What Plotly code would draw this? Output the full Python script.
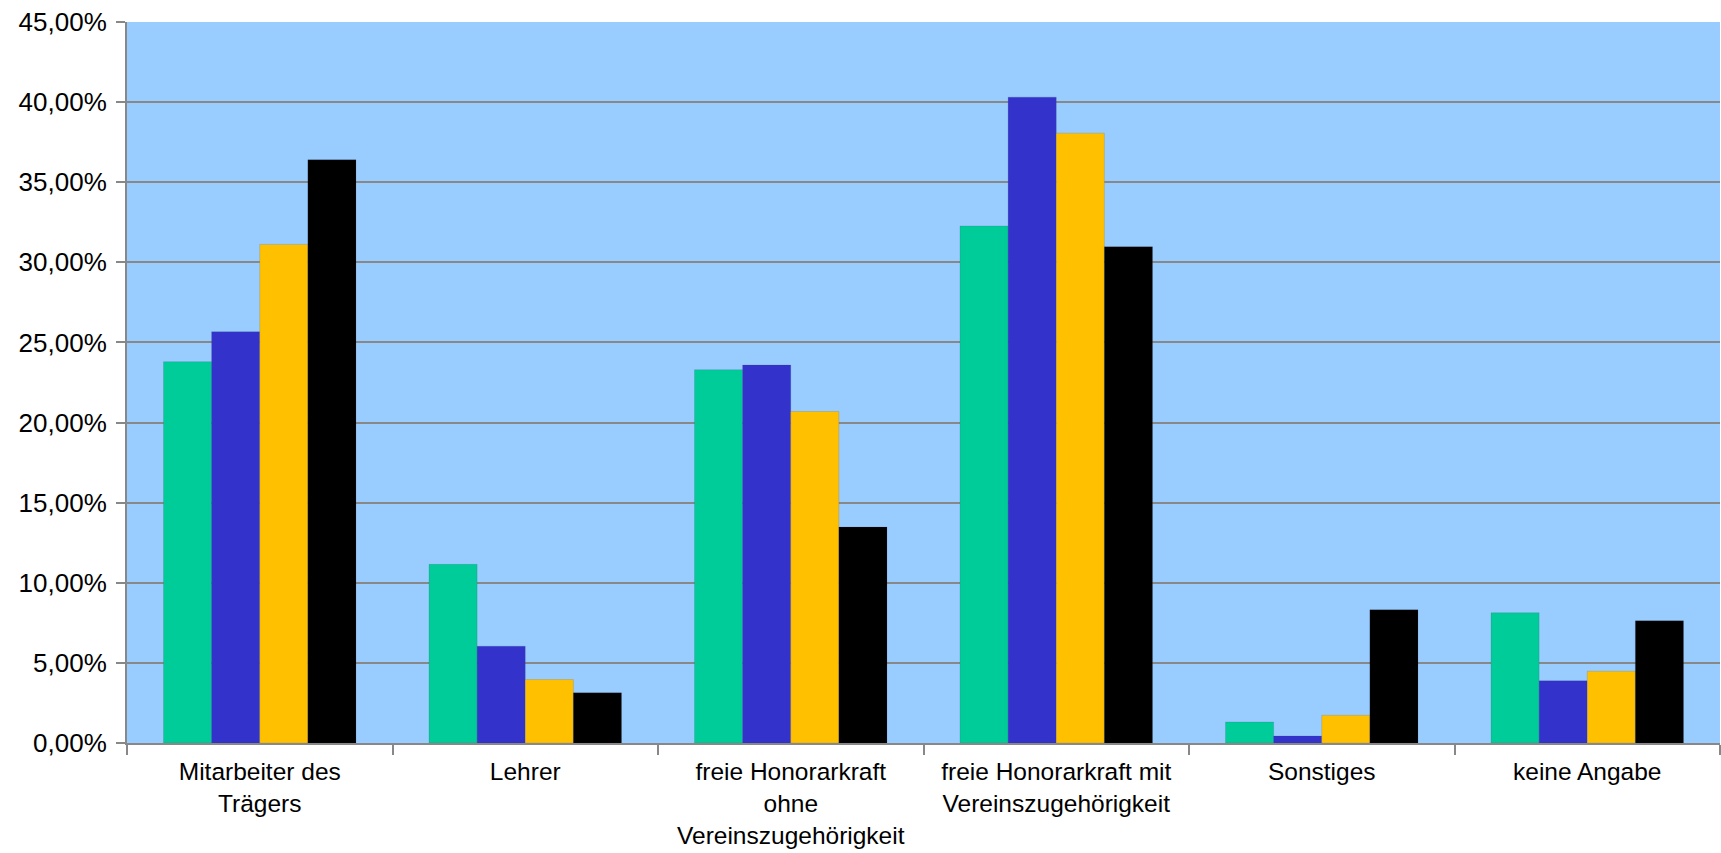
import plotly.graph_objects as go

categories = [
    "Mitarbeiter des<br>Trägers",
    "Lehrer",
    "freie Honorarkraft<br>ohne<br>Vereinszugehörigkeit",
    "freie Honorarkraft mit<br>Vereinszugehörigkeit",
    "Sonstiges",
    "keine Angabe",
]
series_teal = [0.2380, 0.1115, 0.2330, 0.3227, 0.0131, 0.0813]
series_blue = [0.2567, 0.0604, 0.2359, 0.4031, 0.0044, 0.0388]
series_yellow = [0.3112, 0.0396, 0.2069, 0.3806, 0.0173, 0.0448]
series_black = [0.3640, 0.0313, 0.1348, 0.3098, 0.0831, 0.0763]
series_names = ["Serie 1", "Serie 2", "Serie 3", "Serie 4"]
series_colors = ["#00CC99", "#3333CC", "#FFC000", "#000000"]
y_ticks = [0, 0.05, 0.10, 0.15, 0.20, 0.25, 0.30, 0.35, 0.40, 0.45]

fig = go.Figure()
for name, vals, col in zip(series_names,
                           [series_teal, series_blue, series_yellow, series_black],
                           series_colors):
    fig.add_trace(go.Bar(
        x=categories, y=vals, name=name,
        marker=dict(color=col, line=dict(color="rgba(60,60,90,0.15)", width=1)),
    ))

fig.update_layout(
    width=1721, height=853,
    margin=dict(l=127, r=1, t=22, b=110),
    paper_bgcolor="white",
    plot_bgcolor="#99CCFF",
    barmode="group",
    bargap=0.275,
    bargroupgap=0,
    showlegend=False,
    separators=",.",
    font=dict(family="Liberation Sans, Arial, sans-serif", size=26, color="black"),
)
fig.update_xaxes(
    showline=True, linecolor="#888888", linewidth=2,
    ticks="outside", ticklen=10, tickcolor="#888888", tickwidth=2,
    tickson="boundaries",
    showgrid=False,
    automargin=False,
    ticklabelstandoff=6,
    tickfont=dict(size=24.5),
)
fig.update_yaxes(
    range=[0, 0.45], tickvals=y_ticks, tickformat=".2%",
    showline=True, linecolor="#888888", linewidth=2,
    ticks="outside", ticklen=9, tickcolor="#888888", tickwidth=2,
    showgrid=True, gridcolor="#888888", gridwidth=2,
    zeroline=False,
    automargin=False,
    ticklabelstandoff=4,
    tickfont=dict(size=26),
)

fig.write_html("out.html")
